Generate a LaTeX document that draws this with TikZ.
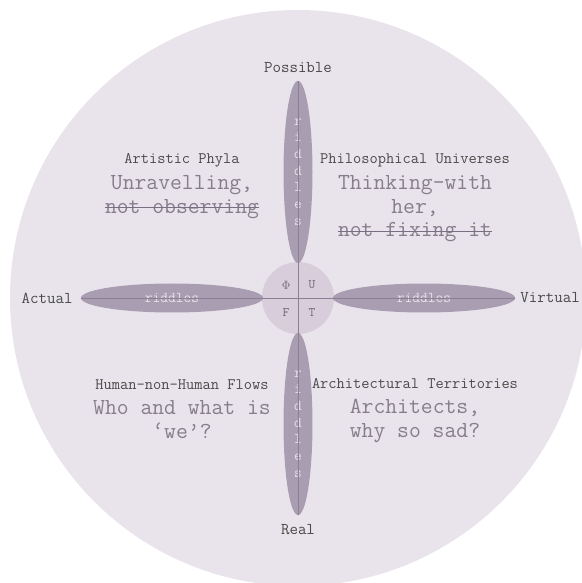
\documentclass[tikz,border=0pt]{standalone}
\usepackage{fontspec}
\usetikzlibrary{shapes.geometric, positioning}

\definecolor{discBg}{HTML}{E9E4EB}
\definecolor{leafFill}{HTML}{A99DB1}
\definecolor{hubFill}{HTML}{D7CDDB}
\definecolor{axisLine}{HTML}{8C7F94}
\definecolor{labelGrey}{HTML}{4A4A4A}
\definecolor{bodyGrey}{HTML}{867E8D}
\definecolor{strikeGrey}{HTML}{7A6E82}
\definecolor{riddleTxt}{HTML}{E8E2EC}
\definecolor{hubTxt}{HTML}{6E6475}

\begin{document}
\begin{tikzpicture}[
    x=1pt, y=1pt,
    node distance=5pt,
    disc/.style={
        circle,
        fill=discBg,
        minimum size=576pt,
        inner sep=0pt
    },
    hub/.style={
        circle,
        fill=hubFill,
        minimum size=72pt,
        inner sep=0pt
    },
    vleaf/.style={
        ellipse,
        fill=leafFill,
        minimum width=29pt,
        minimum height=182pt,
        inner sep=0pt,
        text=riddleTxt,
        align=center,
        font=\ttfamily\fontsize{15}{16.7}\selectfont
    },
    hleaf/.style={
        ellipse,
        fill=leafFill,
        minimum width=182pt,
        minimum height=29pt,
        inner sep=0pt,
        text=riddleTxt,
        font=\ttfamily\fontsize{15}{16.7}\selectfont
    },
    hubletter/.style={
        text=hubTxt,
        font=\ttfamily\fontsize{13}{15}\selectfont
    },
    axislabel/.style={
        text=labelGrey,
        inner sep=2pt,
        font=\ttfamily\fontsize{16.5}{18}\selectfont
    },
    title/.style={
        text=labelGrey,
        inner sep=0pt,
        text height=11.5pt,
        text depth=3.5pt,
        font=\ttfamily\fontsize{16}{18}\selectfont
    },
    body/.style={
        text=bodyGrey,
        inner sep=0pt,
        text height=17pt,
        text depth=6pt,
        font=\ttfamily\fontsize{23}{26}\selectfont
    },
    axis/.style={
        draw=axisLine,
        line width=0.8pt
    },
    strike/.style={
        draw=strikeGrey,
        line width=1pt
    }
]
\useasboundingbox (-298,-285) rectangle (283,298);

% Background
\node [disc] (disc) at (0,0) {};
\node [hub] (hub) at (0,0) {};

% Leaves
\node [vleaf] (leafT) at (0,126) {r\\i\\d\\d\\l\\e\\s};
\node [vleaf] (leafB) at (0,-126) {r\\i\\d\\d\\l\\e\\s};
\node [hleaf] (leafL) at (-126,0) {riddles};
\node [hleaf] (leafR) at (126,0) {riddles};

% Axes
\path [axis] (leafL.west) -- (leafR.east);
\path [axis] (leafT.north) -- (leafB.south);

% Hub letters
\node [hubletter] (phi) at (-12,13) {$\Phi$};
\node [hubletter] (u) at (14,13) {U};
\node [hubletter] (f) at (-12,-15) {F};
\node [hubletter] (t) at (14,-15) {T};

% Axis labels
\node [axislabel, above=6pt of leafT] (possible) {Possible};
\node [axislabel, below=7pt of leafB] (real) {Real};
\node [axislabel, left=6pt of leafL] (actual) {Actual};
\node [axislabel, right=3pt of leafR] (virtual) {Virtual};

% Quadrant: top left
\node [title] (phylaTitle) at (-116,138) {Artistic Phyla};
\node [body, below=5pt of phylaTitle] (phylaText) {Unravelling,};
\node [body, below=0pt of phylaText] (phylaNot) {not observing};
\path [strike] ([yshift=5.5pt]phylaNot.base west) -- ([yshift=5.5pt]phylaNot.base east);

% Quadrant: top right
\node [title] (univTitle) at (117,138) {Philosophical Universes};
\node [body, below=5pt of univTitle] (univText) {Thinking-with};
\node [body, below=0pt of univText] (univHer) {her,};
\node [body, below=0pt of univHer] (univNot) {not fixing it};
\path [strike] ([yshift=5.5pt]univNot.base west) -- ([yshift=5.5pt]univNot.base east);

% Quadrant: bottom left
\node [title] (flowsTitle) at (-116,-87) {Human-non-Human Flows};
\node [body, below=5pt of flowsTitle] (flowsText) {Who and what is};
\node [body, below=0pt of flowsText] (flowsWe) {‘we’?};

% Quadrant: bottom right
\node [title] (terrTitle) at (117,-86) {Architectural Territories};
\node [body, below=5pt of terrTitle] (terrText) {Architects,};
\node [body, below=0pt of terrText] (terrSad) {why so sad?};

\end{tikzpicture}
\end{document}
